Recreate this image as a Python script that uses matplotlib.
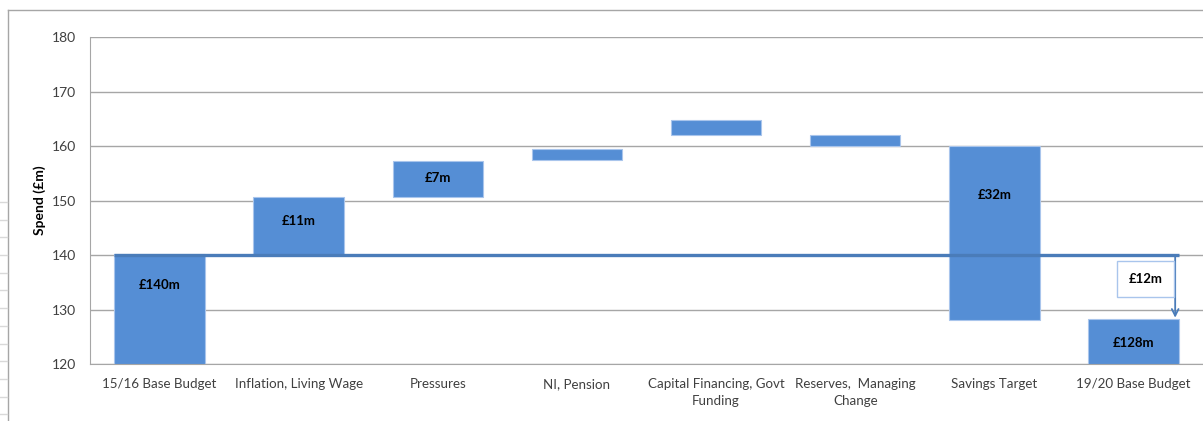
import numpy as np
import matplotlib
matplotlib.use("Agg")
import matplotlib.pyplot as plt
from matplotlib.lines import Line2D

plt.rcParams['font.family'] = ['Lato', 'DejaVu Sans']

categories = ["15/16 Base Budget", "Inflation, Living Wage", "Pressures", "NI, Pension",
              "Capital Financing, Govt\nFunding", "Reserves,  Managing\nChange",
              "Savings Target", "19/20 Base Budget"]
bottoms = [0, 140.0, 150.6, 157.4, 162.0, 160.0, 128.1, 0]
tops = [140.2, 150.6, 157.3, 159.5, 164.9, 162.1, 160.0, 128.3]
show_label = [True, True, True, False, False, False, True, True]
base_line = 140.0

# where the value labels sit inside the bars
label_y = [134.6, 146.2, 154.1, None, None, None, 151.0, 123.9]

bar_color = "#558ED5"
line_color = "#4A7CB9"

fig = plt.figure(figsize=(12.03, 4.21), dpi=100)
ax = fig.add_axes([90 / 1203, 1 - 364 / 421, 1 - 90 / 1203, (364 - 37.3) / 421])

x = np.arange(len(categories))
heights = [t - b for t, b in zip(tops, bottoms)]
ax.bar(x, heights, bottom=bottoms, width=0.65, color=bar_color,
       edgecolor="#A9C5EC", linewidth=0.8, zorder=2)

for i in range(len(categories)):
    if show_label[i]:
        ax.text(x[i], label_y[i], "£%.0fm" % heights[i], ha="center", va="center",
                fontsize=9.5, fontweight="bold", color="black", zorder=4)

# running line at the starting budget
ax.hlines(base_line, x[0] - 0.325, x[-1] + 0.325, color=line_color, lw=2.4, zorder=3)

# drop from the start to the final budget
ax.annotate("", xy=(x[-1] + 0.3, tops[-1] + 0.2), xytext=(x[-1] + 0.3, base_line),
            arrowprops=dict(arrowstyle="->", color=line_color, lw=1.3,
                            mutation_scale=12, shrinkA=0, shrinkB=0), zorder=3)
ax.text(x[-1] + 0.088, 135.6, "£%.0fm" % (base_line - tops[-1]), ha="center", va="center",
        fontsize=9.5, fontweight="bold", zorder=4,
        bbox=dict(boxstyle="square,pad=0.9", fc="white", ec="#A9C5EC", lw=1))

ax.set_xlim(-0.5, len(categories) - 0.5)
ax.set_ylim(120, 180)
ax.set_yticks(np.arange(120, 181, 10))
ax.set_xticks(x)
ax.set_xticklabels(categories, fontsize=9.6, color="#404040", linespacing=1.5)
ax.tick_params(axis="both", length=0, colors="#404040")
ax.tick_params(axis="y", labelsize=10, pad=10)
ax.tick_params(axis="x", pad=10)
ax.grid(axis="y", color="#A6A6A6", lw=1, zorder=0)
ax.set_axisbelow(True)
for s in ["top", "right"]:
    ax.spines[s].set_visible(False)
ax.spines["left"].set_color("#A6A6A6")
ax.spines["bottom"].set_color("#A6A6A6")
ax.set_ylabel("Spend (£m)", fontsize=10, fontweight="bold", labelpad=4)

# chart area frame and the sheet gridlines to its left
fig.add_artist(Line2D([8 / 1203, 8 / 1203], [0, 1 - 10 / 421], color="#A6A6A6", lw=1))
fig.add_artist(Line2D([8 / 1203, 1], [1 - 10 / 421, 1 - 10 / 421], color="#A6A6A6", lw=1))
for yy in np.arange(202, 421, 17.7):
    fig.add_artist(Line2D([0, 7 / 1203], [1 - yy / 421] * 2, color="#D9D9D9", lw=1))

fig.savefig("out.png", dpi=100)
